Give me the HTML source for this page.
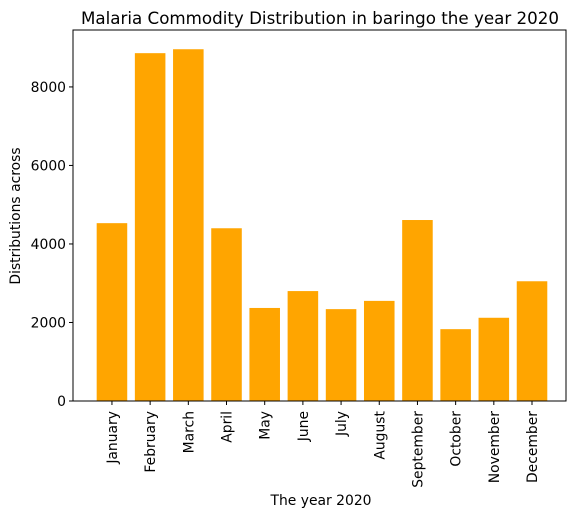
<!DOCTYPE html>
<html><head><meta charset="utf-8"><style>
body{margin:0;background:#fff;font-family:"DejaVu Sans","Liberation Sans",sans-serif;}
</style></head><body>
<svg id="chart" width="580" height="517" xmlns="http://www.w3.org/2000/svg" font-family="DejaVu Sans, Liberation Sans, sans-serif">
<text x="320" y="24" text-anchor="middle" font-size="16.7">Malaria Commodity Distribution in baringo the year 2020</text>
<g id="bars"></g>
<g id="yticks"></g>
<g id="xticks"></g>
<rect x="73" y="30" width="493" height="371" fill="none" stroke="#000" stroke-width="1"/>
<text x="20" y="216" text-anchor="middle" font-size="13.9" transform="rotate(-90 20 216)">Distributions across</text>
<text x="321" y="505" text-anchor="middle" font-size="13.9">The year 2020</text>
</svg>
<script>
const categories=["January","February","March","April","May","June","July","August","September","October","November","December"];
const values=[4530,8860,8960,4400,2370,2800,2340,2550,4610,1830,2120,3050];
const yTicks=[0,2000,4000,6000,8000];
const NS="http://www.w3.org/2000/svg";
const L=73,R=566,T=30,B=401;
const yMax=9450;
function ys(v){return B-(v/yMax)*(B-T);}
const x0=-1.02,x1=11.89;
function xs(i){return L+(i-x0)/(x1-x0)*(R-L);}
const bw=0.8*(R-L)/(x1-x0);
function mk(t,a){const e=document.createElementNS(NS,t);for(const k in a)e.setAttribute(k,a[k]);return e;}
const gb=document.getElementById('bars'),gy=document.getElementById('yticks'),gx=document.getElementById('xticks');
values.forEach((v,i)=>{
 const r=mk('rect',{x:xs(i)-bw/2,y:ys(v),width:bw,height:B-ys(v),fill:'#ffa500'});
 
 
 gb.appendChild(r);
 const tk=mk('line',{x1:xs(i),x2:xs(i),y1:B,y2:B+4,stroke:'#000'});
 
 
 gx.appendChild(tk);
 const t=mk('text',{x:0,y:0,'font-size':13.9,'text-anchor':'end',transform:`translate(${xs(i)+5},${B+10}) rotate(-90)`});
 t.textContent=categories[i];
 
 
 gx.appendChild(t);
});
yTicks.forEach(v=>{
 const tk=mk('line',{x1:L-4,x2:L,y1:ys(v),y2:ys(v),stroke:'#000'});
 
 
 gy.appendChild(tk);
 const t=mk('text',{x:L-7,y:ys(v)+5,'font-size':13.9,'text-anchor':'end'});
 t.textContent=v;
 
 
 gy.appendChild(t);
});
</script>
</body></html>
